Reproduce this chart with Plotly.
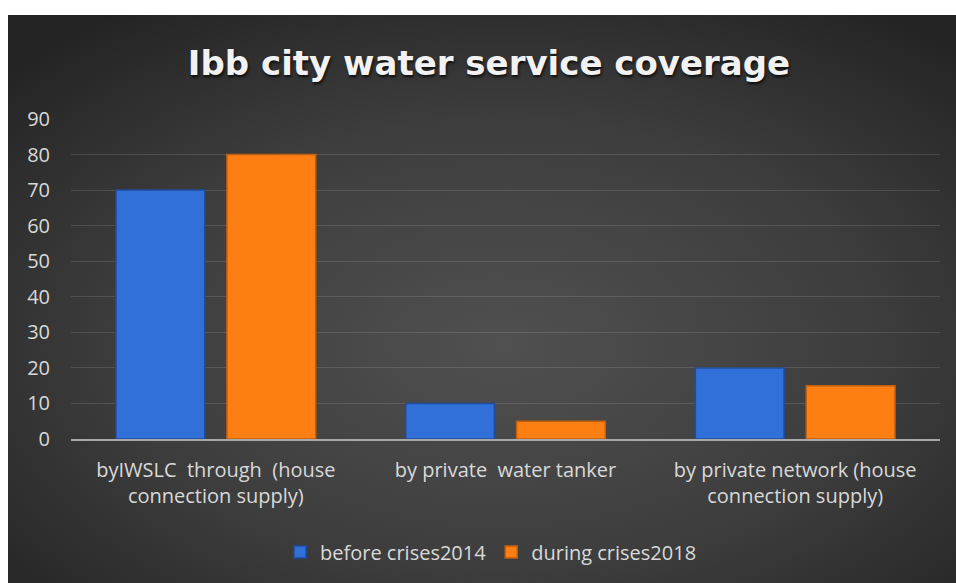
import base64
import plotly.graph_objects as go

categories = ["byIWSLC\u00a0 through\u00a0 (house<br>connection supply)",
              "by private\u00a0 water tanker",
              "by private network (house<br>connection supply)"]
before_2014 = [70, 10, 20]
during_2018 = [80, 5, 15]
series_names = ["before crises2014", "during crises2018"]
y_ticks = [0, 10, 20, 30, 40, 50, 60, 70, 80, 90]

W, H = 956, 583
L, R, T, B = 71, 16, 119, 144
pw, ph = W - L - R, H - T - B

svg = ('<svg xmlns="http://www.w3.org/2000/svg" width="948" height="568" viewBox="0 0 948 568" preserveAspectRatio="none">'
       '<defs><radialGradient id="g" cx="52%" cy="58%" r="72%">'
       '<stop offset="0" stop-color="#505050"/><stop offset="0.55" stop-color="#3d3d3d"/>'
       '<stop offset="1" stop-color="#232323"/></radialGradient></defs>'
       '<rect width="948" height="568" fill="url(#g)"/></svg>')
bg_src = "data:image/svg+xml;base64," + base64.b64encode(svg.encode()).decode()

fig = go.Figure()
fig.add_trace(go.Bar(x=categories, y=before_2014, name=series_names[0],
                     marker=dict(color="#3170d8", line=dict(color="#1f4c9e", width=1.5))))
fig.add_trace(go.Bar(x=categories, y=during_2018, name=series_names[1],
                     marker=dict(color="#fd7f14", line=dict(color="#c05f0c", width=1.5))))

fig.update_layout(
    width=W, height=H,
    margin=dict(l=L, r=R, t=T, b=B),
    paper_bgcolor="white", plot_bgcolor="rgba(0,0,0,0)",
    barmode="group", bargap=0.234, bargroupgap=0.2,
    title=dict(text="<b>Ibb city water service coverage</b>",
               x=489 / W, xanchor="center", xref="container",
               y=1 - 63 / H, yanchor="middle",
               font=dict(family="DejaVu Sans", size=34, color="#f2f2f2",
                         shadow="1px 2px 3px rgba(0,0,0,0.8)")),
    font=dict(family="Open Sans", size=20, color="#d9d9d9"),
    showlegend=True,
    legend=dict(orientation="h", x=(491 - L) / pw, xanchor="center",
                y=(H - B - 552) / ph, yanchor="middle",
                font=dict(family="Open Sans", size=20, color="#d9d9d9"),
                bgcolor="rgba(0,0,0,0)"),
    images=[dict(source=bg_src, xref="paper", yref="paper",
                 x=(8 - L) / pw, y=(H - B - 15) / ph,
                 sizex=(W - 8) / pw, sizey=(H - 15) / ph,
                 sizing="stretch", xanchor="left", yanchor="top", layer="below")],
)
fig.update_yaxes(range=[0, 90], tickvals=y_ticks, showgrid=True,
                 gridcolor="rgba(255,255,255,0.13)", gridwidth=1,
                 zeroline=False, showline=False, ticks="",
                 ticklabelstandoff=20,
                 tickfont=dict(family="Open Sans", size=20, color="#d9d9d9"))
fig.update_xaxes(showline=True, linecolor="#a8a8a8", linewidth=2, ticks="",
                 showgrid=False, ticklabelstandoff=12,
                 tickfont=dict(family="Open Sans", size=20, color="#d9d9d9"))

fig.write_html("out.html")
